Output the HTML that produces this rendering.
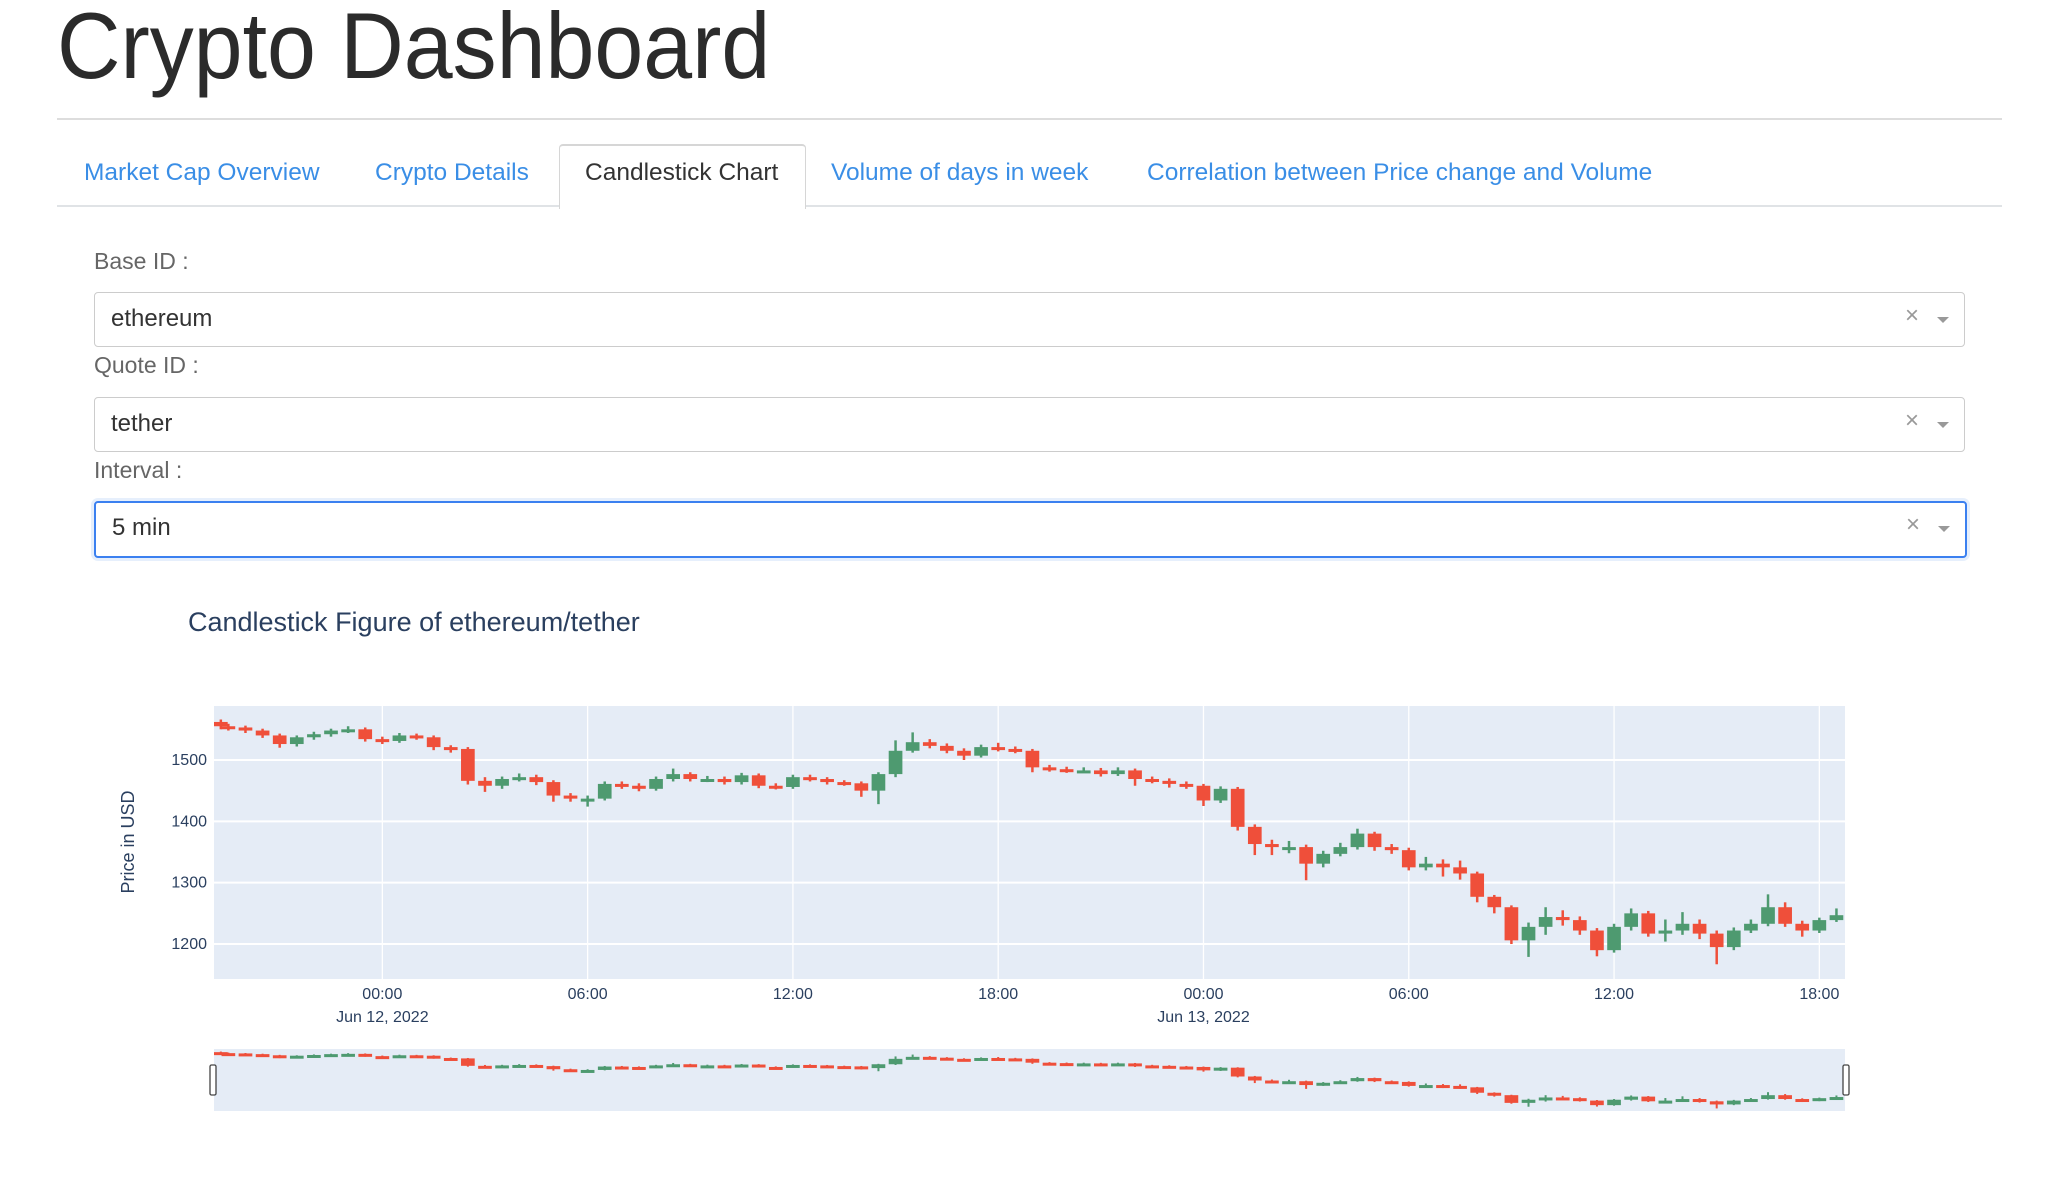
<!DOCTYPE html>
<html><head><meta charset="utf-8"><style>
body{margin:0;width:2046px;height:1196px;background:#fff;font-family:"Liberation Sans",sans-serif;position:relative;overflow:hidden}
.abs{position:absolute}
.tab{position:absolute;top:159px;font-size:24.5px;color:#3a8ee6;white-space:nowrap}
.lbl{position:absolute;left:94px;font-size:23px;color:#666}
.dd{position:absolute;left:94px;width:1869px;height:53px;border:1px solid #ccc;border-radius:4px;background:#fff}
.dd .v{position:absolute;left:16px;top:12px;font-size:24px;color:#333}
.dd .x{position:absolute;left:1810px;top:9px;font-size:24px;color:#999}
.dd .a{position:absolute;left:1842px;top:24px;width:0;height:0;border-left:6px solid transparent;border-right:6px solid transparent;border-top:6px solid #999}
</style></head><body>
<div class="abs" style="left:57px;top:-8px;font-size:94px;color:#2b2b2b;transform:scaleX(0.935);transform-origin:left top;white-space:nowrap">Crypto Dashboard</div>
<div class="abs" style="left:57px;top:118px;width:1945px;height:2px;background:#ddd"></div>
<div class="abs" style="left:57px;top:205px;width:1945px;height:2px;background:#e0e3e6"></div>
<div class="abs" style="left:559px;top:144px;width:245px;height:63px;background:#fff;border:1px solid #d6d6d6;border-bottom:none;border-top:2px solid #d6d6d6;border-radius:4px 4px 0 0"></div>
<div class="tab" style="left:84px">Market Cap Overview</div>
<div class="tab" style="left:375px">Crypto Details</div>
<div class="tab" style="left:585px;color:#333">Candlestick Chart</div>
<div class="tab" style="left:831px">Volume of days in week</div>
<div class="tab" style="left:1147px">Correlation between Price change and Volume</div>

<div class="lbl" style="top:248px">Base ID :</div>
<div class="dd" style="top:292px"><span class="v">ethereum</span><span class="x">×</span><span class="a"></span></div>
<div class="lbl" style="top:352px">Quote ID :</div>
<div class="dd" style="top:397px"><span class="v">tether</span><span class="x">×</span><span class="a"></span></div>
<div class="lbl" style="top:457px">Interval :</div>
<div class="dd" style="top:501px;border:2px solid #3b80f0;box-shadow:0 0 0 3px #e6effc"><span class="v" style="top:11px">5 min</span><span class="x" style="top:8px">×</span><span class="a" style="top:23px"></span></div>

<svg class="abs" style="left:0;top:0" width="2046" height="1196" id="chart">
<text x="188" y="631" font-size="27" fill="#2a3f5f" font-family="Liberation Sans, sans-serif">Candlestick Figure of ethereum/tether</text>
<rect x="214" y="706" width="1631" height="273" fill="#e5ecf6"/>
<g id="grid"></g>
<g id="marks"></g>
<text transform="translate(134,842) rotate(-90)" text-anchor="middle" font-size="18" fill="#2a3f5f" font-family="Liberation Sans, sans-serif">Price in USD</text>
<rect x="214" y="1049" width="1631" height="62" fill="#e5ecf6"/>
<g id="slider"></g>
<rect x="210" y="1065" width="6" height="30" rx="1.5" fill="#fff" stroke="#444" stroke-width="1.3"/>
<rect x="1843" y="1065" width="6" height="30" rx="1.5" fill="#fff" stroke="#444" stroke-width="1.3"/>
</svg>
<script>
const startHour=-5; const stepHour=0.5;
const opens=[1562,1555,1553,1548,1540,1526,1537,1542,1548,1550,1534,1531,1540,1537,1521,1518,1466,1458,1469,1472,1464,1442,1437,1437,1461,1458,1453,1469,1477,1469,1469,1464,1475,1458,1456,1472,1469,1464,1462,1450,1477,1515,1529,1523,1515,1507,1521,1518,1515,1488,1485,1483,1483,1477,1483,1469,1466,1461,1458,1434,1453,1391,1363,1358,1358,1331,1347,1358,1380,1358,1353,1325,1331,1325,1315,1277,1260,1206,1228,1244,1239,1222,1190,1228,1250,1217,1222,1233,1217,1195,1222,1233,1260,1233,1222,1239];
const closes=[1555,1553,1548,1540,1526,1537,1542,1548,1550,1534,1531,1540,1537,1521,1518,1466,1458,1469,1472,1464,1442,1437,1437,1461,1458,1453,1469,1477,1469,1469,1464,1475,1458,1456,1472,1469,1464,1462,1450,1477,1515,1529,1523,1515,1507,1521,1518,1515,1488,1485,1483,1483,1477,1483,1469,1466,1461,1458,1434,1453,1391,1363,1358,1358,1331,1347,1358,1380,1358,1353,1325,1331,1325,1315,1277,1260,1206,1228,1244,1239,1222,1190,1228,1250,1217,1222,1233,1217,1195,1222,1233,1260,1233,1222,1239,1247];
const highs=[1566,1559,1556,1551,1543,1540,1546,1551,1555,1553,1538,1544,1543,1540,1524,1521,1472,1473,1478,1476,1467,1446,1442,1465,1465,1462,1473,1486,1480,1474,1473,1479,1478,1462,1476,1476,1472,1467,1465,1480,1532,1545,1534,1527,1519,1525,1528,1522,1518,1492,1489,1488,1487,1488,1486,1473,1470,1465,1461,1457,1456,1395,1370,1368,1362,1352,1365,1388,1383,1363,1357,1342,1338,1336,1318,1280,1263,1235,1260,1255,1245,1226,1233,1258,1254,1240,1252,1240,1222,1227,1240,1281,1268,1238,1243,1258];
const lows=[1550,1548,1544,1536,1520,1522,1533,1538,1544,1530,1526,1528,1533,1516,1512,1460,1448,1453,1465,1459,1432,1432,1424,1434,1453,1449,1450,1465,1465,1464,1460,1460,1454,1452,1453,1465,1460,1458,1440,1428,1472,1512,1519,1511,1500,1504,1514,1511,1480,1481,1479,1479,1473,1474,1458,1462,1455,1453,1425,1430,1385,1345,1345,1348,1304,1325,1343,1354,1352,1347,1320,1320,1310,1305,1268,1250,1200,1179,1215,1230,1215,1180,1186,1222,1212,1204,1215,1208,1167,1190,1218,1229,1228,1212,1218,1236];
const yTicks=[1200,1300,1400,1500];
const xTickHours=[0,6,12,18,24,30,36,42];
const xTickLabels=["00:00","06:00","12:00","18:00","00:00","06:00","12:00","18:00"];
const xDateLabels={0:"Jun 12, 2022",24:"Jun 13, 2022"};
const NS="http://www.w3.org/2000/svg";
const X0=214,X1=1845,Y0=706,Y1=979;
const tMin=-4.92,tMax=42.75;
function xs(t){return X0+(t-tMin)/(tMax-tMin)*(X1-X0);}
const pMin=1143,pMax=1588;
function ys(p){return Y1-(p-pMin)/(pMax-pMin)*(Y1-Y0);}
const sMin=Math.min(...lows)-4,sMax=Math.max(...highs)+4;
function yss(p){return 1109-(p-sMin)/(sMax-sMin)*58;}
function mk(tag,at,parent){const e=document.createElementNS(NS,tag);for(const k in at)e.setAttribute(k,at[k]);parent.appendChild(e);return e;}
const grid=document.getElementById('grid'),marks=document.getElementById('marks'),slider=document.getElementById('slider');
yTicks.forEach(v=>{
 const l=mk('line',{x1:X0,x2:X1,y1:ys(v),y2:ys(v),stroke:'#fff','stroke-width':2},grid);
 
 
 const t=mk('text',{x:207,y:ys(v)+5,'text-anchor':'end','font-size':16,fill:'#2a3f5f','font-family':'Liberation Sans, sans-serif'},grid);
 t.textContent=v;
 
 
});
xTickHours.forEach((h,i)=>{
 const x=xs(h);
 const l=mk('line',{x1:x,x2:x,y1:Y0,y2:Y1,stroke:'#fff','stroke-width':1.3},grid);
 
 
 const t=mk('text',{x:x,y:999,'text-anchor':'middle','font-size':16,fill:'#2a3f5f','font-family':'Liberation Sans, sans-serif'},grid);
 t.textContent=xTickLabels[i];
 
 
 if(xDateLabels[h]){
  const d=mk('text',{x:x,y:1022,'text-anchor':'middle','font-size':16,fill:'#2a3f5f','font-family':'Liberation Sans, sans-serif'},grid);
  d.textContent=xDateLabels[h];
  
  
 }
});
const bw=(xs(stepHour)-xs(0))*0.8;
closes.forEach((c,i)=>{
 const o=opens[i],h=highs[i],lo=lows[i];
 const t=startHour+i*stepHour;
 const x=Math.max(X0+bw/2,Math.min(X1-bw/2,xs(t)));
 const col=c>=o?'#4e9a70':'#ef4f3a';
 const g=mk('g',{},marks);
 
 
 mk('line',{x1:x,x2:x,y1:ys(h),y2:ys(lo),stroke:col,'stroke-width':2.5},g);
 const top=ys(Math.max(o,c)),bot=ys(Math.min(o,c));
 mk('rect',{x:x-bw/2,y:top,width:bw,height:Math.max(3,bot-top),fill:col},g);
 const s=mk('g',{},slider);
 
 
 mk('line',{x1:x,x2:x,y1:yss(h),y2:yss(lo),stroke:col,'stroke-width':2},s);
 const st=yss(Math.max(o,c)),sb=yss(Math.min(o,c));
 mk('rect',{x:x-bw/2,y:st,width:bw,height:Math.max(3,sb-st),fill:col},s);
});
</script>
</body></html>
